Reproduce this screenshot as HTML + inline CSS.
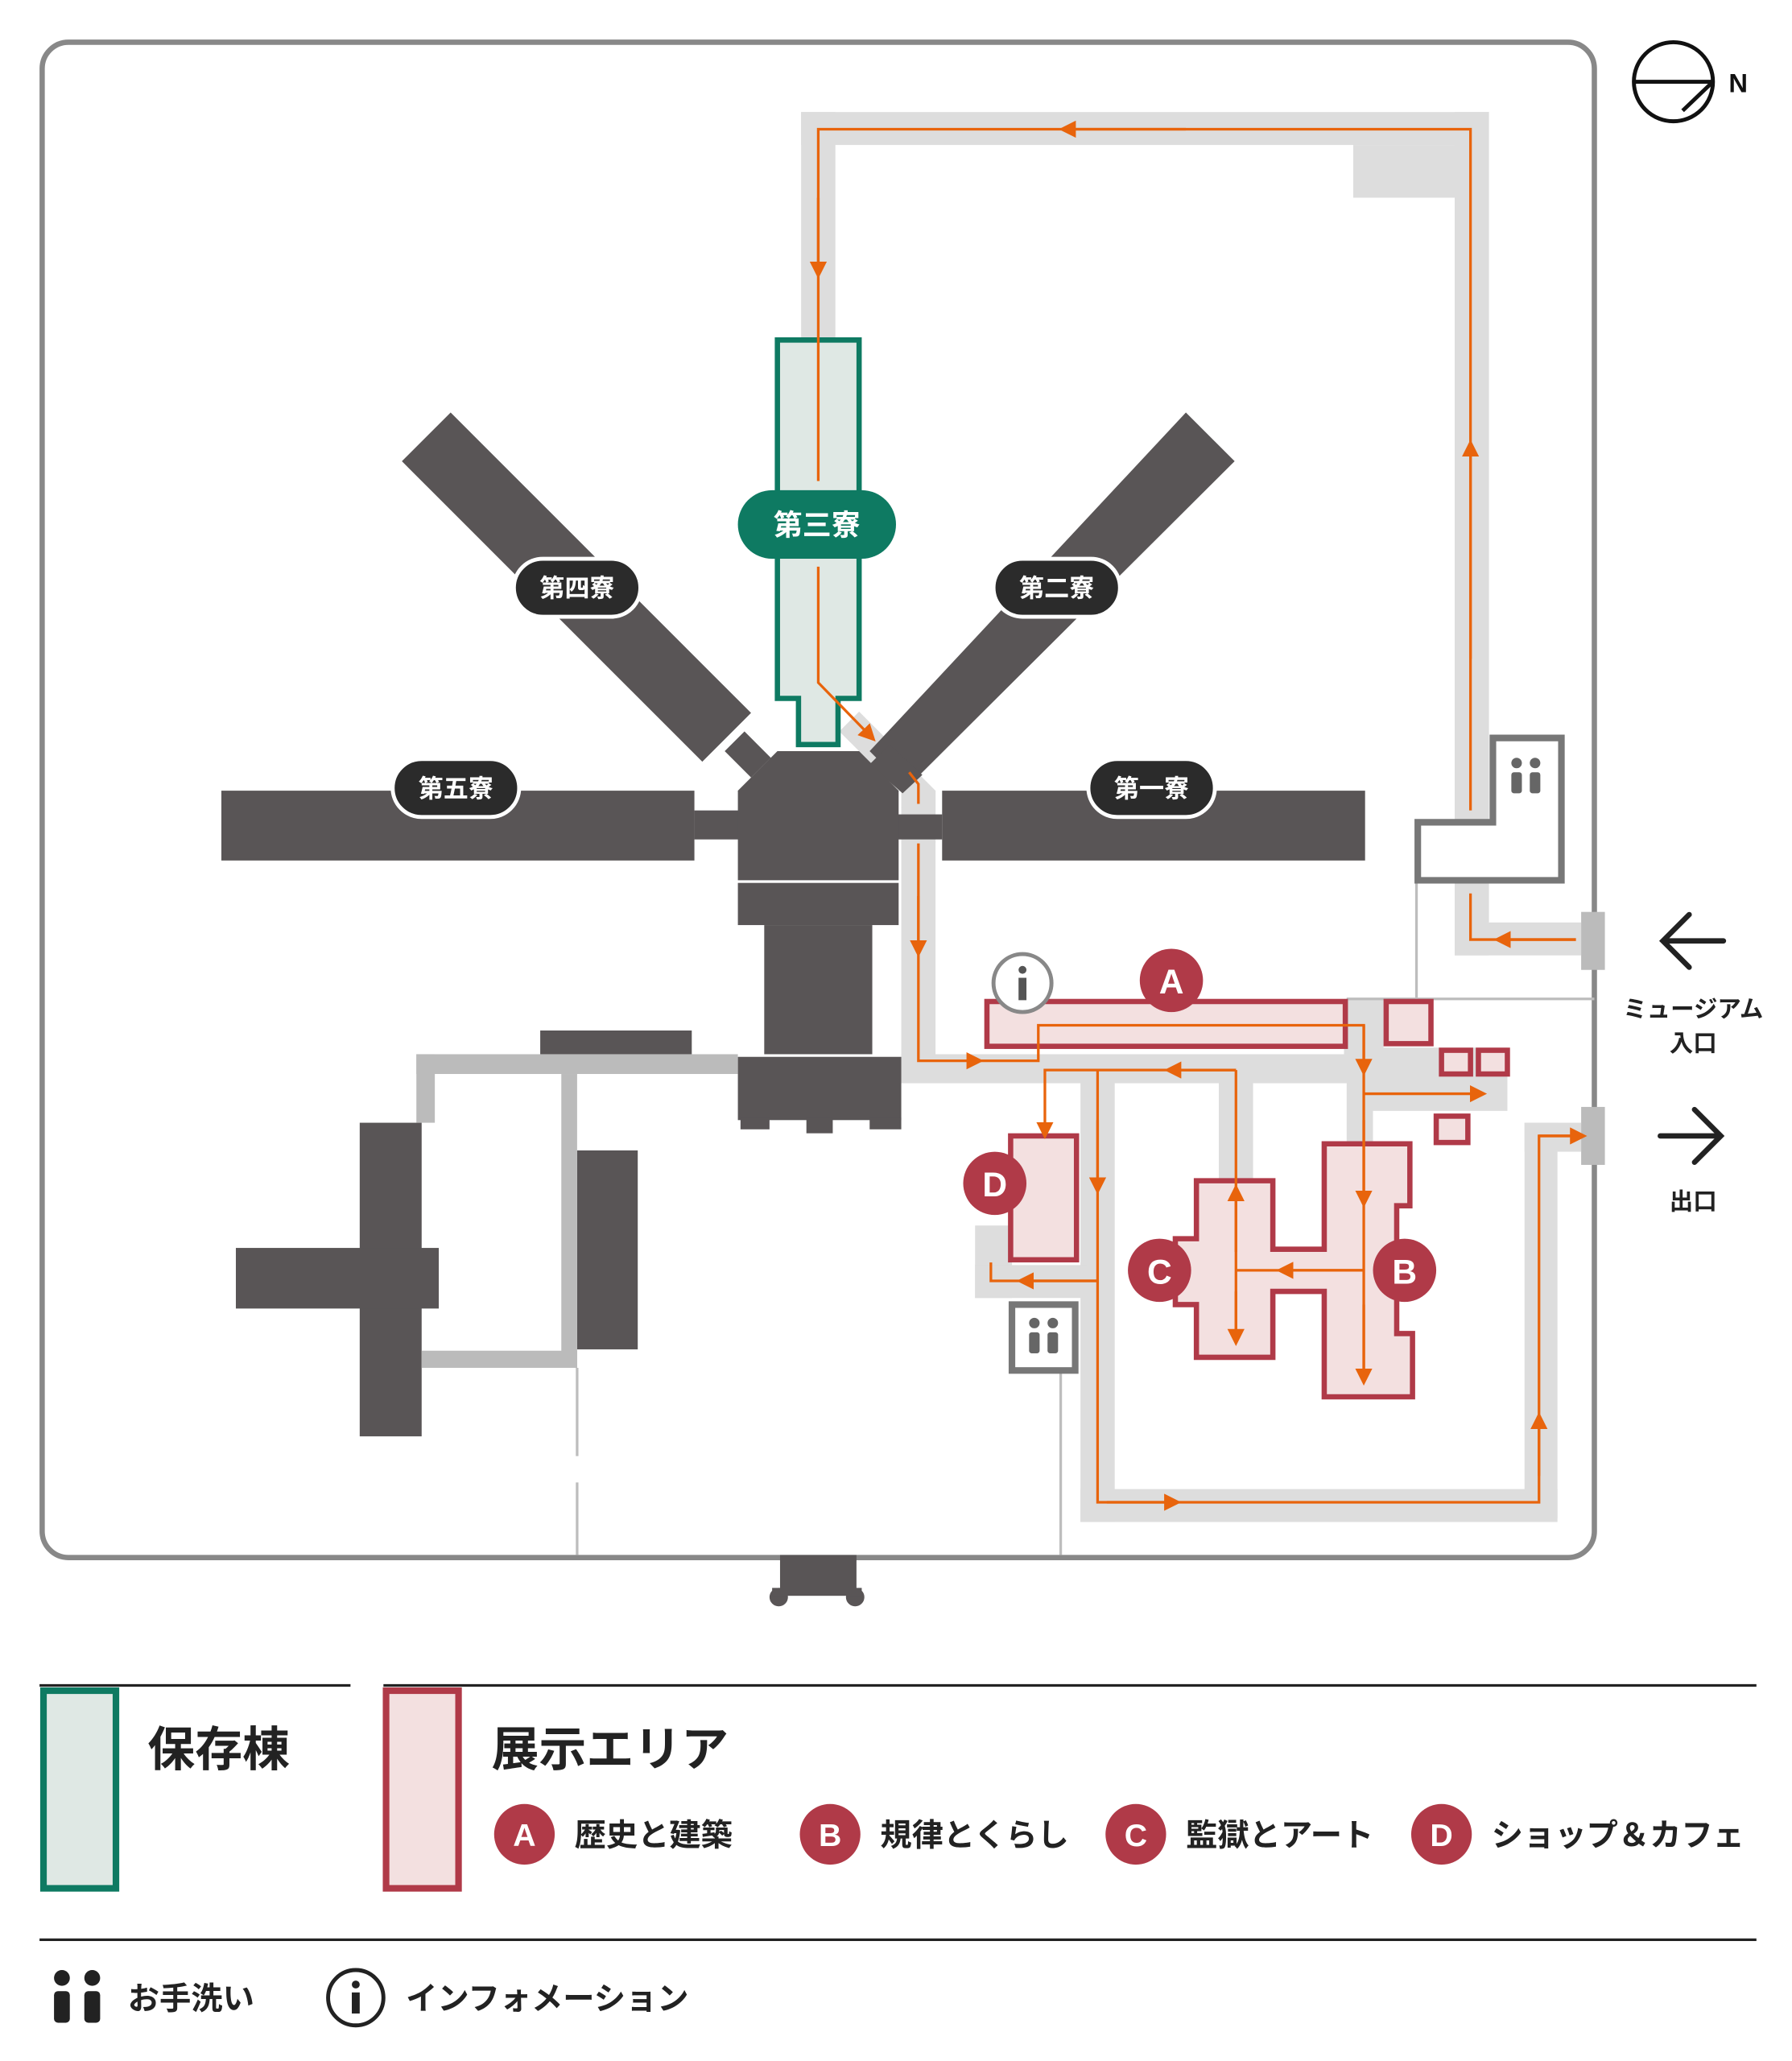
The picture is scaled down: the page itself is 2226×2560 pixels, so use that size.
<!DOCTYPE html>
<html><head><meta charset="utf-8"><style>
html,body{margin:0;padding:0;background:#fff}
svg{display:block}
text{font-family:"Liberation Sans","Noto Sans CJK JP",sans-serif;font-weight:bold}
</style></head><body>
<svg width="2226" height="2560" viewBox="0 0 1360 1564" xmlns="http://www.w3.org/2000/svg">
<defs>
<marker id="ar" viewBox="0 0 10 10" refX="5" refY="5" markerWidth="6.5" markerHeight="6.5" orient="auto"><path d="M0,0L10,5L0,10z" fill="#e8640c"/></marker>
</defs>
<rect x="32" y="32" width="1178" height="1150" rx="20" fill="#fff" stroke="#888" stroke-width="4"/>
<circle cx="1270" cy="62" r="30" fill="none" stroke="#111" stroke-width="3"/>
<line x1="1240" y1="62" x2="1300" y2="62" stroke="#111" stroke-width="3"/>
<line x1="1300" y1="62" x2="1277" y2="84" stroke="#111" stroke-width="3"/>
<text x="1312" y="70" font-size="20" fill="#111">N</text>

<g fill="#dddddd">
<rect x="608" y="85" width="522" height="25"/>
<rect x="608" y="85" width="26" height="175"/>
<rect x="1104" y="85" width="26" height="640"/>
<rect x="1027" y="110" width="77" height="40"/>
<rect x="1104" y="700" width="96" height="25"/>
<rect x="684" y="600" width="26" height="220"/>
<rect x="684" y="800" width="350" height="22"/>
<rect x="1034" y="795" width="110" height="48"/>
<rect x="1020" y="758" width="30" height="60"/>
<rect x="820" y="815" width="26" height="340"/>
<rect x="820" y="1130" width="362" height="25"/>
<rect x="1157" y="852" width="25" height="300"/>
<rect x="1157" y="852" width="43" height="22"/>
<rect x="925" y="815" width="26" height="85"/>
<rect x="1022" y="815" width="20" height="60"/>
<rect x="740" y="930" width="28" height="55"/>
<rect x="740" y="960" width="85" height="25"/>
<polygon points="637,555 652,540 680,568 665,583"/>
<polygon points="685,600 698,588 710,600 710,640 684,640"/>
</g>

<g stroke="#bdbdbd" stroke-width="2">
<line x1="438" y1="1038" x2="438" y2="1105"/>
<line x1="438" y1="1125" x2="438" y2="1180"/>
<line x1="805" y1="1040" x2="805" y2="1180"/>
<line x1="1075" y1="668" x2="1075" y2="757"/>
<line x1="1022" y1="758" x2="1210" y2="758"/>
</g>

<g fill="#595556">
<polygon points="305,350 342,313 570,541 533,578"/>
<polygon points="550,570 565,555 585,575 570,590"/>
<polygon points="900,313 937,350 688,598 660,570"/>
<polygon points="660,580 675,565 700,588 685,602"/>
<rect x="168" y="600" width="359" height="53"/>
<rect x="527" y="615" width="35" height="22"/>
<rect x="715" y="600" width="321" height="53"/>
<rect x="680" y="618" width="35" height="19"/>
<polygon points="590,570 652,570 682,600 682,668 560,668 560,600"/>
<rect x="560" y="670" width="122" height="32"/>
<rect x="580" y="702" width="82" height="98"/>
<rect x="560" y="802" width="124" height="48"/>
<rect x="562" y="848" width="22" height="9"/>
<rect x="612" y="848" width="20" height="12"/>
<rect x="660" y="848" width="24" height="9"/>
<rect x="410" y="782" width="115" height="18"/>
<rect x="273" y="852" width="47" height="238"/>
<rect x="179" y="947" width="154" height="46"/>
<rect x="438" y="873" width="46" height="151"/>
<rect x="592" y="1180" width="58" height="28"/>
<circle cx="591" cy="1212" r="7"/><circle cx="649" cy="1212" r="7"/>
<rect x="586" y="1205" width="68" height="6"/>
</g>
<line x1="560" y1="669" x2="682" y2="669" stroke="#fff" stroke-width="1.5"/>
<g fill="#bbbbbb">
<rect x="316" y="800" width="244" height="15"/>
<rect x="316" y="800" width="14" height="52"/>
<rect x="426" y="815" width="12" height="223"/>
<rect x="320" y="1025" width="118" height="13"/>
</g>

<polygon points="590,258 652,258 652,530 636,530 636,565 606,565 606,530 590,530" fill="#dfe8e4" stroke="#0e7a62" stroke-width="4"/>

<polygon points="1133,560 1185,560 1185,668 1076,668 1076,624 1133,624" fill="#fff" stroke="#777" stroke-width="5"/>
<g fill="#666"><circle cx="1151" cy="579" r="4"/><circle cx="1165" cy="579" r="4"/><rect x="1147" y="586" width="8" height="16" rx="2"/><rect x="1161" y="586" width="8" height="16" rx="2"/></g>
<rect x="1200" y="692" width="18" height="44" fill="#bbb"/>
<rect x="1200" y="840" width="18" height="44" fill="#bbb"/>

<g fill="#f3e0e0" stroke="#b03a48" stroke-width="4">
<rect x="749" y="760" width="272" height="34"/>
<rect x="1052" y="760" width="34" height="32"/>
<rect x="1094" y="797" width="22" height="18"/>
<rect x="1122" y="797" width="22" height="18"/>
<rect x="1090" y="847" width="24" height="20"/>
<rect x="767" y="862" width="50" height="94"/>
<polygon points="908,896 966,896 966,948 1005,948 1005,868 1070,868 1070,915 1060,915 1060,1012 1072,1012 1072,1060 1005,1060 1005,980 966,980 966,1030 908,1030 908,990 892,990 892,940 908,940"/>
</g>
<rect x="768" y="990" width="48" height="50" fill="#fff" stroke="#777" stroke-width="5"/>
<g fill="#666"><circle cx="785" cy="1004" r="4"/><circle cx="799" cy="1004" r="4"/><rect x="781" y="1011" width="8" height="16" rx="2"/><rect x="795" y="1011" width="8" height="16" rx="2"/></g>

<g fill="none" stroke="#e8640c" stroke-width="2">
<path d="M1116,615 L1116,98 L621,98 L621,365" />
<path d="M1116,500 L1116,340" marker-end="url(#ar)"/>
<path d="M900,98 L810,98" marker-end="url(#ar)"/>
<path d="M621,150 L621,205" marker-end="url(#ar)"/>
<path d="M621,430 L621,518 L660,558" marker-end="url(#ar)"/>
<path d="M690,586 L697,595 L697,610"/>
<path d="M697,640 L697,805 L740,805" marker-end="url(#ar)"/>
<path d="M697,680 L697,720" marker-end="url(#ar)"/>
<path d="M1196,713 L1116,713 L1116,678"/>
<path d="M1196,713 L1140,713" marker-end="url(#ar)"/>
<path d="M740,805 L788,805 L788,778 L1035,778 L1035,1045"/>
<path d="M1035,778 L1035,810" marker-end="url(#ar)"/>
<path d="M1035,830 L1122,830" marker-end="url(#ar)"/>
<path d="M1035,850 L1035,910" marker-end="url(#ar)"/>
<path d="M1035,990 L1035,1045" marker-end="url(#ar)"/>
<path d="M938,812 L793,812 L793,858" marker-end="url(#ar)"/>
<path d="M938,812 L890,812" marker-end="url(#ar)"/>
<path d="M938,812 L938,1015"/>
<path d="M938,950 L938,905" marker-end="url(#ar)"/>
<path d="M938,980 L938,1015" marker-end="url(#ar)"/>
<path d="M1035,964 L938,964"/>
<path d="M1035,964 L975,964" marker-end="url(#ar)"/>
<path d="M833,812 L833,1140 L1168,1140 L1168,862 L1196,862"/>
<path d="M833,850 L833,900" marker-end="url(#ar)"/>
<path d="M833,972 L752,972 L752,958"/>
<path d="M833,972 L778,972" marker-end="url(#ar)"/>
<path d="M840,1140 L890,1140" marker-end="url(#ar)"/>
<path d="M1168,1120 L1168,1078" marker-end="url(#ar)"/>
<path d="M1168,862 L1198,862" marker-end="url(#ar)"/>
</g>

<circle cx="776" cy="746" r="22" fill="#fff" stroke="#888" stroke-width="3"/>
<circle cx="776" cy="736" r="3" fill="#555"/><rect x="773" y="742" width="6" height="17" fill="#555"/>

<g font-size="26" text-anchor="middle" fill="#fff">
<circle cx="889" cy="744" r="24" fill="#b03a48"/><text x="889" y="754">A</text>
<circle cx="755" cy="898" r="24" fill="#b03a48"/><text x="755" y="908">D</text>
<circle cx="880" cy="964" r="24" fill="#b03a48"/><text x="880" y="974">C</text>
<circle cx="1066" cy="964" r="24" fill="#b03a48"/><text x="1066" y="974">B</text>
</g>

<g font-size="19" text-anchor="middle" fill="#fff">
<rect x="560" y="372" width="120" height="52" rx="26" fill="#0e7a62"/><text x="620" y="406" font-size="22">第三寮</text>
<rect x="390" y="424" width="96" height="44" rx="22" fill="#2b2b2b" stroke="#fff" stroke-width="3"/><text x="438" y="453">第四寮</text>
<rect x="754" y="424" width="96" height="44" rx="22" fill="#2b2b2b" stroke="#fff" stroke-width="3"/><text x="802" y="453">第二寮</text>
<rect x="298" y="576" width="96" height="44" rx="22" fill="#2b2b2b" stroke="#fff" stroke-width="3"/><text x="346" y="605">第五寮</text>
<rect x="826" y="576" width="96" height="44" rx="22" fill="#2b2b2b" stroke="#fff" stroke-width="3"/><text x="874" y="605">第一寮</text>
</g>

<g stroke="#222" stroke-width="4" fill="none" stroke-linecap="round">
<path d="M1308,714 L1262,714 M1282,694 L1262,714 L1282,734"/>
<path d="M1260,862 L1306,862 M1286,842 L1306,862 L1286,882"/>
</g>
<g font-size="18" text-anchor="middle" fill="#222">
<text x="1285" y="772">ミュージアム</text>
<text x="1285" y="798">入口</text>
<text x="1285" y="918">出口</text>
</g>

<line x1="30" y1="1279" x2="266" y2="1279" stroke="#222" stroke-width="2"/>
<line x1="291" y1="1279" x2="1333" y2="1279" stroke="#222" stroke-width="2"/>
<line x1="30" y1="1472" x2="1333" y2="1472" stroke="#222" stroke-width="2"/>
<rect x="33" y="1283" width="55" height="150" fill="#dfe8e4" stroke="#0e7a62" stroke-width="5"/>
<text x="112" y="1340" font-size="36" fill="#222">保存棟</text>
<rect x="293" y="1283" width="55" height="150" fill="#f3e0e0" stroke="#b03a48" stroke-width="5"/>
<text x="373" y="1340" font-size="36" fill="#222">展示エリア</text>
<g font-size="24" fill="#fff" text-anchor="middle">
<circle cx="398" cy="1392" r="23" fill="#b03a48"/><text x="398" y="1401">A</text>
<circle cx="630" cy="1392" r="23" fill="#b03a48"/><text x="630" y="1401">B</text>
<circle cx="862" cy="1392" r="23" fill="#b03a48"/><text x="862" y="1401">C</text>
<circle cx="1094" cy="1392" r="23" fill="#b03a48"/><text x="1094" y="1401">D</text>
</g>
<g font-size="24" fill="#222">
<text x="436" y="1401">歴史と建築</text>
<text x="668" y="1401">規律とくらし</text>
<text x="900" y="1401">監獄とアート</text>
<text x="1132" y="1401">ショップ＆カフェ</text>
<text x="97" y="1525">お手洗い</text>
<text x="308" y="1525">インフォメーション</text>
</g>
<g fill="#222"><circle cx="47" cy="1501" r="6"/><circle cx="70" cy="1501" r="6"/><rect x="41" y="1511" width="12" height="24" rx="3"/><rect x="64" y="1511" width="12" height="24" rx="3"/></g>
<circle cx="270" cy="1516" r="21" fill="#fff" stroke="#222" stroke-width="3"/>
<circle cx="270" cy="1506" r="3" fill="#222"/><rect x="267" y="1512" width="6" height="16" fill="#222"/>
</svg>
</body></html>
